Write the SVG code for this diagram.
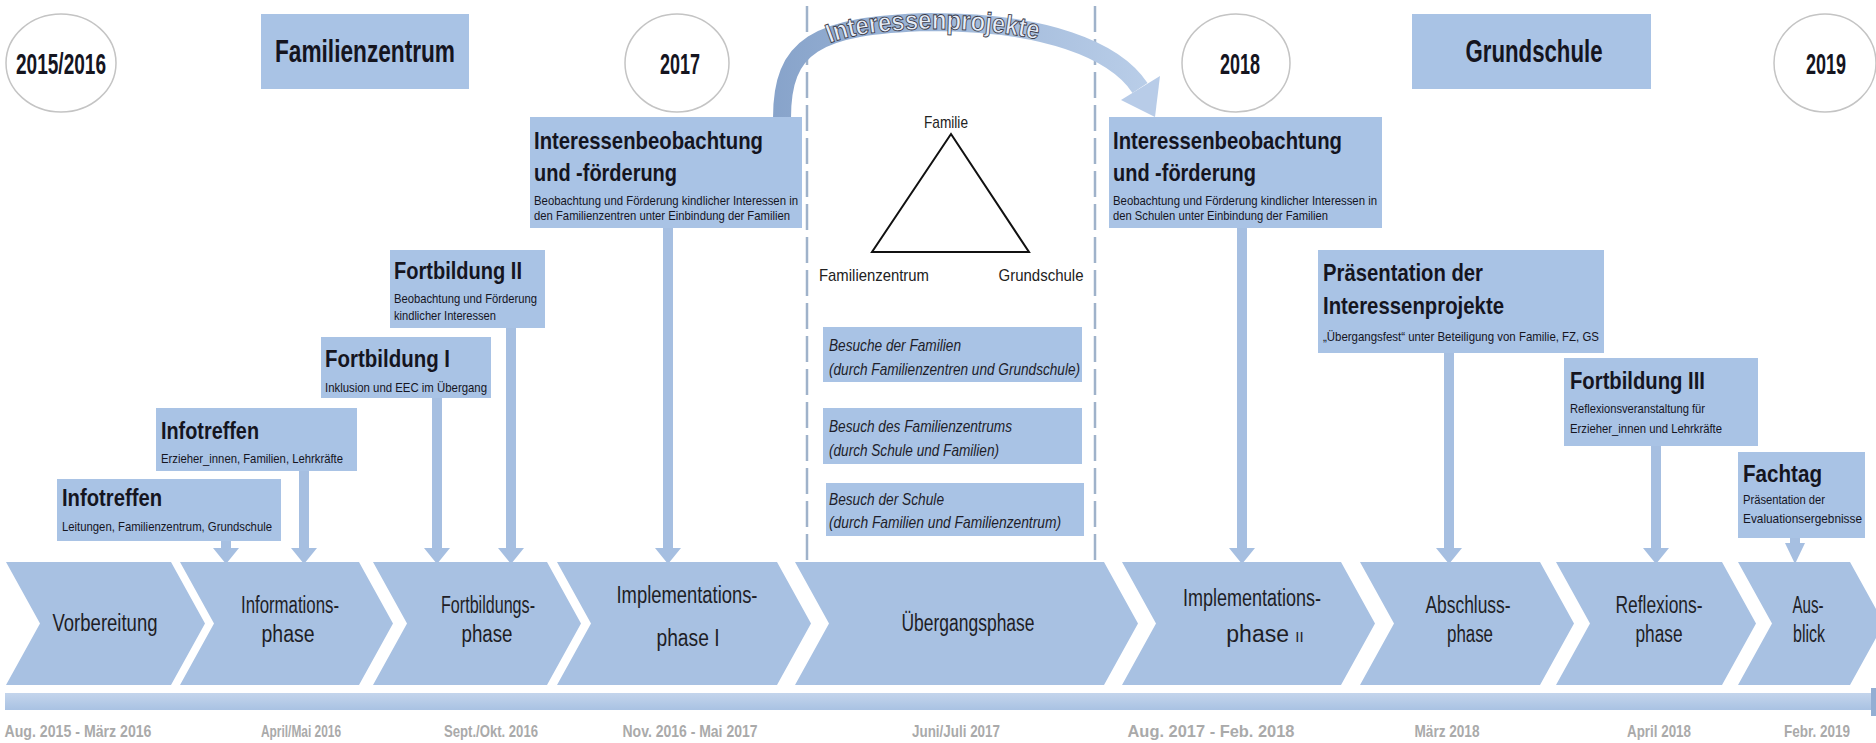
<svg xmlns="http://www.w3.org/2000/svg" width="1876" height="743" viewBox="0 0 1876 743">
<style>
.box{fill:#a9c3e5}
.chev{fill:#a8c1e2}
.stem{stroke:#a6bfe1;stroke-width:10;fill:none}
.ah{fill:#a6bfe1}
.yr{fill:#fff;stroke:#c4c4c4;stroke-width:1.5}
.f{font-family:"Liberation Sans",Arial,sans-serif}
.tt{font-weight:bold;font-size:24px;fill:#15151f}
.top{font-weight:bold;font-size:32px;fill:#15151f}
.yt{font-weight:bold;font-size:30px;fill:#15151f}
.st{font-size:13px;fill:#15151f}
.cl{font-size:23px;fill:#1e1e26}
.dt{font-weight:bold;font-size:17px;fill:#aaaaaa}
.it{font-style:italic;font-size:17px;fill:#1e1e2a}
.tri{font-size:17px;fill:#222}
.dash{stroke:#9fb2ca;stroke-width:2.5;stroke-dasharray:26 7;fill:none}
</style>
<defs>
<linearGradient id="arcg" gradientUnits="userSpaceOnUse" x1="770" y1="0" x2="1170" y2="0">
<stop offset="0" stop-color="#87a3ca"/>
<stop offset="1" stop-color="#bcd0ea"/>
</linearGradient>
<linearGradient id="barg" x1="0" y1="0" x2="0" y2="1">
<stop offset="0" stop-color="#c4d5ec"/>
<stop offset="1" stop-color="#a9c2e3"/>
</linearGradient>
<path id="arcpath" d="M 782 118 C 782 46 815 25 930 22 C 1045 22 1115 50 1140 88"/>
</defs>
<rect width="1876" height="743" fill="#fff"/>

<g id="dividers">
<line class="dash" x1="807" y1="6" x2="807" y2="562"/>
<line class="dash" x1="1095" y1="6" x2="1095" y2="562"/>
</g>

<g id="years">
<g id="y2015"><ellipse class="yr" cx="61" cy="63" rx="55" ry="49"/><text class="f yt" x="61" y="74" text-anchor="middle" textLength="90" lengthAdjust="spacingAndGlyphs">2015/2016</text></g>
<g id="y2017"><ellipse class="yr" cx="677" cy="63" rx="52" ry="49"/><text class="f yt" x="680" y="74" text-anchor="middle" textLength="40" lengthAdjust="spacingAndGlyphs">2017</text></g>
<g id="y2018"><ellipse class="yr" cx="1236" cy="63" rx="54" ry="49"/><text class="f yt" x="1240" y="74" text-anchor="middle" textLength="40" lengthAdjust="spacingAndGlyphs">2018</text></g>
<g id="y2019"><ellipse class="yr" cx="1825" cy="63" rx="51" ry="49"/><text class="f yt" x="1826" y="74" text-anchor="middle" textLength="40" lengthAdjust="spacingAndGlyphs">2019</text></g>
</g>

<g id="hdr-fz"><rect class="box" x="261" y="14" width="208" height="75"/><text class="f top" x="365" y="62" text-anchor="middle" textLength="180" lengthAdjust="spacingAndGlyphs">Familienzentrum</text></g>
<g id="hdr-gs"><rect class="box" x="1412" y="14" width="239" height="75"/><text class="f top" x="1534" y="62" text-anchor="middle" textLength="137" lengthAdjust="spacingAndGlyphs">Grundschule</text></g>

<g id="connectors">
<path d="M 782 118 C 782 46 815 25 930 22 C 1045 22 1115 50 1140 88" stroke="url(#arcg)" stroke-width="18" fill="none"/>
<polygon points="1121,100 1160,76 1155,117" fill="#b8cce8"/>
<line class="stem" x1="226" y1="541" x2="226" y2="550"/><polygon class="ah" points="213,548 239,548 226,564"/>
<line class="stem" x1="304" y1="471" x2="304" y2="550"/><polygon class="ah" points="291,548 317,548 304,564"/>
<line class="stem" x1="437" y1="398" x2="437" y2="550"/><polygon class="ah" points="424,548 450,548 437,564"/>
<line class="stem" x1="511" y1="328" x2="511" y2="550"/><polygon class="ah" points="498,548 524,548 511,564"/>
<line class="stem" x1="668" y1="228" x2="668" y2="550"/><polygon class="ah" points="655,548 681,548 668,564"/>
<line class="stem" x1="1242" y1="228" x2="1242" y2="550"/><polygon class="ah" points="1229,548 1255,548 1242,564"/>
<line class="stem" x1="1449" y1="353" x2="1449" y2="550"/><polygon class="ah" points="1436,548 1462,548 1449,564"/>
<line class="stem" x1="1656" y1="446" x2="1656" y2="550"/><polygon class="ah" points="1643,548 1669,548 1656,564"/>
<line class="stem" x1="1795" y1="538" x2="1795" y2="546"/><polygon class="ah" points="1785,543 1805,543 1795,564"/>
</g>

<text class="f" font-weight="bold" font-size="27" fill="#e6edf8" stroke="#3a3a48" stroke-width="0.9" dy="7"><textPath href="#arcpath" startOffset="48%" text-anchor="middle" textLength="214" lengthAdjust="spacingAndGlyphs">Interessenprojekte</textPath></text>

<g id="triangle">
<polygon points="951,134 872,252 1029,252" fill="none" stroke="#111" stroke-width="2"/>
<text class="f tri" x="946" y="128" text-anchor="middle" textLength="44" lengthAdjust="spacingAndGlyphs">Familie</text>
<text class="f tri" x="874" y="281" text-anchor="middle" textLength="110" lengthAdjust="spacingAndGlyphs">Familienzentrum</text>
<text class="f tri" x="1041" y="281" text-anchor="middle" textLength="85" lengthAdjust="spacingAndGlyphs">Grundschule</text>
</g>

<g id="visit1"><rect class="box" x="823" y="327" width="259" height="55"/>
<text class="f it" x="829" y="351" textLength="132" lengthAdjust="spacingAndGlyphs">Besuche der Familien</text>
<text class="f it" x="829" y="375" textLength="251" lengthAdjust="spacingAndGlyphs">(durch Familienzentren und Grundschule)</text></g>
<g id="visit2"><rect class="box" x="823" y="408" width="259" height="56"/>
<text class="f it" x="829" y="432" textLength="183" lengthAdjust="spacingAndGlyphs">Besuch des Familienzentrums</text>
<text class="f it" x="829" y="456" textLength="170" lengthAdjust="spacingAndGlyphs">(durch Schule und Familien)</text></g>
<g id="visit3"><rect class="box" x="826" y="483" width="258" height="53"/>
<text class="f it" x="829" y="505" textLength="115" lengthAdjust="spacingAndGlyphs">Besuch der Schule</text>
<text class="f it" x="829" y="528" textLength="232" lengthAdjust="spacingAndGlyphs">(durch Familien und Familienzentrum)</text></g>

<g id="ev-info1"><rect class="box" x="57" y="479" width="224" height="62"/>
<text class="f tt" x="62" y="506" textLength="100" lengthAdjust="spacingAndGlyphs">Infotreffen</text>
<text class="f st" x="62" y="531" textLength="210" lengthAdjust="spacingAndGlyphs">Leitungen, Familienzentrum, Grundschule</text></g>
<g id="ev-info2"><rect class="box" x="156" y="408" width="201" height="63"/>
<text class="f tt" x="161" y="439" textLength="98" lengthAdjust="spacingAndGlyphs">Infotreffen</text>
<text class="f st" x="161" y="463" textLength="182" lengthAdjust="spacingAndGlyphs">Erzieher_innen, Familien, Lehrkräfte</text></g>
<g id="ev-fb1"><rect class="box" x="321" y="337" width="170" height="61"/>
<text class="f tt" x="325" y="367" textLength="125" lengthAdjust="spacingAndGlyphs">Fortbildung I</text>
<text class="f st" x="325" y="392" textLength="162" lengthAdjust="spacingAndGlyphs">Inklusion und EEC im Übergang</text></g>
<g id="ev-fb2"><rect class="box" x="390" y="250" width="155" height="78"/>
<text class="f tt" x="394" y="279" textLength="128" lengthAdjust="spacingAndGlyphs">Fortbildung II</text>
<text class="f st" x="394" y="303" textLength="143" lengthAdjust="spacingAndGlyphs">Beobachtung und Förderung</text>
<text class="f st" x="394" y="320" textLength="102" lengthAdjust="spacingAndGlyphs">kindlicher Interessen</text></g>
<g id="ev-int1"><rect class="box" x="530" y="117" width="272" height="111"/>
<text class="f tt" x="534" y="149" textLength="229" lengthAdjust="spacingAndGlyphs">Interessenbeobachtung</text>
<text class="f tt" x="534" y="181" textLength="143" lengthAdjust="spacingAndGlyphs">und -förderung</text>
<text class="f st" x="534" y="205" textLength="264" lengthAdjust="spacingAndGlyphs">Beobachtung und Förderung kindlicher Interessen in</text>
<text class="f st" x="534" y="220" textLength="256" lengthAdjust="spacingAndGlyphs">den Familienzentren unter Einbindung der Familien</text></g>
<g id="ev-int2"><rect class="box" x="1109" y="117" width="273" height="111"/>
<text class="f tt" x="1113" y="149" textLength="229" lengthAdjust="spacingAndGlyphs">Interessenbeobachtung</text>
<text class="f tt" x="1113" y="181" textLength="143" lengthAdjust="spacingAndGlyphs">und -förderung</text>
<text class="f st" x="1113" y="205" textLength="264" lengthAdjust="spacingAndGlyphs">Beobachtung und Förderung kindlicher Interessen in</text>
<text class="f st" x="1113" y="220" textLength="215" lengthAdjust="spacingAndGlyphs">den Schulen unter Einbindung der Familien</text></g>
<g id="ev-praes"><rect class="box" x="1318" y="250" width="286" height="103"/>
<text class="f tt" x="1323" y="281" textLength="160" lengthAdjust="spacingAndGlyphs">Präsentation der</text>
<text class="f tt" x="1323" y="314" textLength="181" lengthAdjust="spacingAndGlyphs">Interessenprojekte</text>
<text class="f st" x="1323" y="341" textLength="276" lengthAdjust="spacingAndGlyphs">„Übergangsfest“ unter Beteiligung von Familie, FZ, GS</text></g>
<g id="ev-fb3"><rect class="box" x="1564" y="358" width="194" height="88"/>
<text class="f tt" x="1570" y="389" textLength="135" lengthAdjust="spacingAndGlyphs">Fortbildung III</text>
<text class="f st" x="1570" y="413" textLength="135" lengthAdjust="spacingAndGlyphs">Reflexionsveranstaltung für</text>
<text class="f st" x="1570" y="433" textLength="152" lengthAdjust="spacingAndGlyphs">Erzieher_innen und Lehrkräfte</text></g>
<g id="ev-fachtag"><rect class="box" x="1738" y="452" width="127" height="86"/>
<text class="f tt" x="1743" y="482" textLength="79" lengthAdjust="spacingAndGlyphs">Fachtag</text>
<text class="f st" x="1743" y="504" textLength="82" lengthAdjust="spacingAndGlyphs">Präsentation der</text>
<text class="f st" x="1743" y="523" textLength="119" lengthAdjust="spacingAndGlyphs">Evaluationsergebnisse</text></g>

<g id="ph1"><polygon class="chev" points="6,562 171,562 205,623.5 171,685 6,685 40,623.5"/>
<text class="f cl" x="105" y="631" text-anchor="middle" textLength="105" lengthAdjust="spacingAndGlyphs">Vorbereitung</text></g>
<g id="ph2"><polygon class="chev" points="180,562 359,562 393,623.5 359,685 180,685 214,623.5"/>
<text class="f cl" x="290" y="613" text-anchor="middle" textLength="98" lengthAdjust="spacingAndGlyphs">Informations-</text>
<text class="f cl" x="288" y="642" text-anchor="middle" textLength="53" lengthAdjust="spacingAndGlyphs">phase</text></g>
<g id="ph3"><polygon class="chev" points="373,562 547,562 581,623.5 547,685 373,685 407,623.5"/>
<text class="f cl" x="488" y="613" text-anchor="middle" textLength="94" lengthAdjust="spacingAndGlyphs">Fortbildungs-</text>
<text class="f cl" x="487" y="642" text-anchor="middle" textLength="51" lengthAdjust="spacingAndGlyphs">phase</text></g>
<g id="ph4"><polygon class="chev" points="557,562 777,562 811,623.5 777,685 557,685 591,623.5"/>
<text class="f cl" x="687" y="603" text-anchor="middle" textLength="141" lengthAdjust="spacingAndGlyphs">Implementations-</text>
<text class="f cl" x="688" y="646" text-anchor="middle" textLength="63" lengthAdjust="spacingAndGlyphs">phase I</text></g>
<g id="ph5"><polygon class="chev" points="795,562 1104,562 1138,623.5 1104,685 795,685 829,623.5"/>
<text class="f cl" x="968" y="631" text-anchor="middle" textLength="133" lengthAdjust="spacingAndGlyphs">Übergangsphase</text></g>
<g id="ph6"><polygon class="chev" points="1122,562 1341,562 1375,623.5 1341,685 1122,685 1156,623.5"/>
<text class="f cl" x="1252" y="606" text-anchor="middle" textLength="138" lengthAdjust="spacingAndGlyphs">Implementations-</text>
<text class="f cl" x="1265" y="642" text-anchor="middle">phase <tspan font-size="15">II</tspan></text></g>
<g id="ph7"><polygon class="chev" points="1360,562 1540,562 1574,623.5 1540,685 1360,685 1394,623.5"/>
<text class="f cl" x="1468" y="613" text-anchor="middle" textLength="85" lengthAdjust="spacingAndGlyphs">Abschluss-</text>
<text class="f cl" x="1470" y="642" text-anchor="middle" textLength="46" lengthAdjust="spacingAndGlyphs">phase</text></g>
<g id="ph8"><polygon class="chev" points="1556,562 1722,562 1756,623.5 1722,685 1556,685 1590,623.5"/>
<text class="f cl" x="1659" y="613" text-anchor="middle" textLength="87" lengthAdjust="spacingAndGlyphs">Reflexions-</text>
<text class="f cl" x="1659" y="642" text-anchor="middle" textLength="47" lengthAdjust="spacingAndGlyphs">phase</text></g>
<g id="ph9"><polygon class="chev" points="1738,562 1850,562 1884,623.5 1850,685 1738,685 1772,623.5"/>
<text class="f cl" x="1808" y="613" text-anchor="middle" textLength="31" lengthAdjust="spacingAndGlyphs">Aus-</text>
<text class="f cl" x="1809" y="642" text-anchor="middle" textLength="32" lengthAdjust="spacingAndGlyphs">blick</text></g>

<g id="timeline">
<rect x="5" y="693" width="1871" height="17" fill="url(#barg)"/>
<rect x="1871" y="688" width="5" height="28" fill="#93aed3"/>
<text class="f dt" x="78" y="737" text-anchor="middle" textLength="147" lengthAdjust="spacingAndGlyphs">Aug. 2015 - März 2016</text>
<text class="f dt" x="301" y="737" text-anchor="middle" textLength="80" lengthAdjust="spacingAndGlyphs">April/Mai 2016</text>
<text class="f dt" x="491" y="737" text-anchor="middle" textLength="94" lengthAdjust="spacingAndGlyphs">Sept./Okt. 2016</text>
<text class="f dt" x="690" y="737" text-anchor="middle" textLength="135" lengthAdjust="spacingAndGlyphs">Nov. 2016 - Mai 2017</text>
<text class="f dt" x="956" y="737" text-anchor="middle" textLength="88" lengthAdjust="spacingAndGlyphs">Juni/Juli 2017</text>
<text class="f dt" x="1211" y="737" text-anchor="middle" textLength="167" lengthAdjust="spacingAndGlyphs">Aug. 2017 - Feb. 2018</text>
<text class="f dt" x="1447" y="737" text-anchor="middle" textLength="65" lengthAdjust="spacingAndGlyphs">März 2018</text>
<text class="f dt" x="1659" y="737" text-anchor="middle" textLength="64" lengthAdjust="spacingAndGlyphs">April 2018</text>
<text class="f dt" x="1817" y="737" text-anchor="middle" textLength="66" lengthAdjust="spacingAndGlyphs">Febr. 2019</text>
</g>
</svg>
